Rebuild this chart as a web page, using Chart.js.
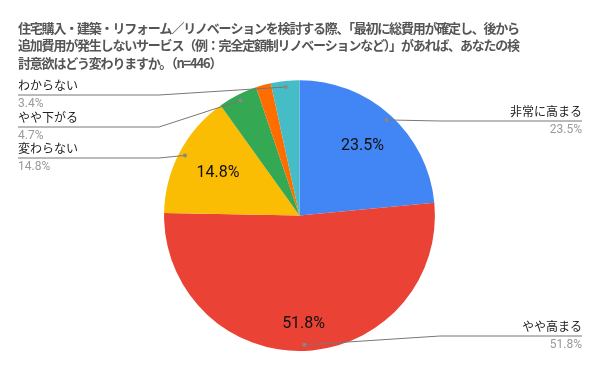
<!DOCTYPE html>
<html>
<head>
<meta charset="utf-8">
<script src="https://cdn.jsdelivr.net/npm/chart.js@4.4.1/dist/chart.umd.min.js"></script>
<style>
  html, body { margin: 0; padding: 0; background: #fff; }
  #wrap { width: 600px; height: 371px; }
</style>
</head>
<body>
<div id="wrap"><canvas id="pie-chart"></canvas></div>
<script>
const titleLines = [
    '住宅購入・建築・リフォーム／リノベーションを検討する際、「最初に総費用が確定し、後から',
    '追加費用が発生しないサービス（例：完全定額制リノベーションなど）」があれば、あなたの検',
    '討意欲はどう変わりますか。（n=446）',
];
const categories = ['非常に高まる', 'やや高まる', '変わらない', 'やや下がる', '非常に下がる', 'わからない'];
const shares = [23.5, 51.8, 14.8, 4.7, 1.8, 3.4];
const sliceColors = ['#4285F4', '#EA4335', '#FBBC04', '#34A853', '#FF6D01', '#46BDC6'];

// label layout: y of each callout line (null = no callout), radius share of inner % labels
const calloutLineY = [121, 336, 158, 127, null, 95];
const insideRadius = [0.69, 0.8, 0.68, null, null, null];

const FONT = "Roboto, 'Noto Sans CJK JP', sans-serif";

const titleSpacing = {
    id: 'titleSpacing',
    beforeDraw(chart) { chart.ctx.letterSpacing = '-1.2px'; },
    beforeDatasetsDraw(chart) { chart.ctx.letterSpacing = '0px'; },
};

const callouts = {
    id: 'callouts',
    afterDatasetsDraw(chart) {
        const ctx = chart.ctx;
        const area = chart.chartArea;
        const arcs = chart.getDatasetMeta(0).data;
        ctx.save();
        arcs.forEach((arc, i) => {
            const p = arc.getProps(['x', 'y', 'startAngle', 'endAngle', 'outerRadius'], true);
            const mid = (p.startAngle + p.endAngle) / 2;
            const cos = Math.cos(mid);
            const sin = Math.sin(mid);
            const pct = shares[i].toFixed(1) + '%';

            if (insideRadius[i]) {
                const r = p.outerRadius * insideRadius[i];
                ctx.fillStyle = '#111';
                ctx.font = '16px ' + FONT;
                ctx.textAlign = 'center';
                ctx.textBaseline = 'middle';
                ctx.fillText(pct, p.x + cos * r, p.y + sin * r);
            }

            const lineY = calloutLineY[i];
            if (lineY === null) return;
            const right = cos > 0;
            const dotX = p.x + cos * p.outerRadius * 0.955;
            const dotY = p.y + sin * p.outerRadius * 0.955;
            const elbowX = p.x + (right ? 1 : -1) * (p.outerRadius + 5);
            const endX = right ? area.right + 1 : area.left;

            ctx.strokeStyle = '#777';
            ctx.lineWidth = 1;
            ctx.beginPath();
            ctx.moveTo(endX, lineY);
            ctx.lineTo(elbowX, lineY);
            ctx.lineTo(dotX, dotY);
            ctx.stroke();
            ctx.fillStyle = '#888';
            ctx.beginPath();
            ctx.arc(dotX, dotY, 2, 0, Math.PI * 2);
            ctx.fill();

            ctx.textAlign = right ? 'right' : 'left';
            ctx.textBaseline = 'middle';
            ctx.font = '12px ' + FONT;
            ctx.fillStyle = '#222';
            ctx.fillText(categories[i], endX, lineY - 8.5);
            ctx.fillStyle = '#999';
            ctx.fillText(pct, endX, lineY + 8.5);
        });
        ctx.restore();
    },
};

const ctx = document.getElementById('pie-chart').getContext('2d');
const pieChart = new Chart(ctx, {
    type: 'pie',
    data: {
        labels: categories,
        datasets: [
            {
                data: shares,
                backgroundColor: sliceColors,
                borderWidth: 0,
                hoverOffset: 0,
            },
        ],
    },
    options: {
        responsive: true,
        maintainAspectRatio: false,
        animation: false,
        layout: {
            padding: { left: 18, right: 19, top: 0, bottom: 20 },
        },
        plugins: {
            legend: { display: false },
            tooltip: { enabled: false },
            title: {
                display: true,
                text: titleLines,
                align: 'start',
                color: '#555',
                font: { family: "'Noto Sans CJK JP', sans-serif", size: 13, weight: 'bold', lineHeight: 1.35 },
                padding: { top: 19, bottom: 8.5 },
            },
        },
    },
    plugins: [titleSpacing, callouts],
});
</script>
</body>
</html>
